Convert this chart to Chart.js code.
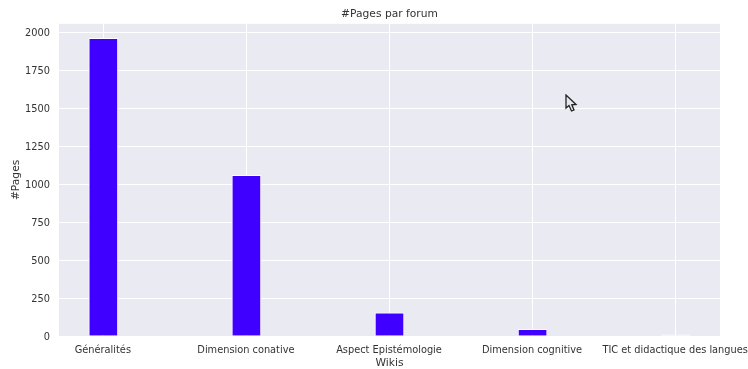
<!DOCTYPE html>
<html>
<head>
<meta charset="utf-8">
<title>#Pages par forum</title>
<script src="https://cdn.jsdelivr.net/npm/chart.js@4"></script>
<style>
    body { margin: 0; background: #fff; overflow: hidden; }
    #wrap { position: relative; width: 748px; height: 369px; }
    #barchart { display: block; }
    #cursor { position: absolute; left: 565px; top: 94px; }
</style>
</head>
<body>
<div id="wrap">
    <canvas id="barchart" width="748" height="369"></canvas>
    <!-- curseur de souris present sur la capture -->
    <svg id="cursor" width="14" height="19" viewBox="0 0 14 19">
        <path d="M1 1 L1 14 L4 11.5 L6.5 17 L9 16 L6.8 10.8 L11 10.5 Z" fill="#e8e8f0" stroke="#222" stroke-width="1.3"/>
    </svg>
</div>
<script>
const categories = ["Généralités", "Dimension conative", "Aspect Epistémologie", "Dimension cognitive", "TIC et didactique des langues"];
const pages = [1960, 1058, 152, 44, 7];
const yTicks = [0, 250, 500, 750, 1000, 1250, 1500, 1750, 2000];

const TEXT = "#333333";
const FONT = "'DejaVu Sans'";

// fond gris du graphique, dessine avant les grilles
const plotBackground = {
    id: "plotBackground",
    beforeDraw(chart) {
        const a = chart.chartArea;
        chart.ctx.save();
        chart.ctx.fillStyle = "#EAEAF2";
        chart.ctx.fillRect(a.left, a.top, a.width, a.height);
        chart.ctx.restore();
    }
};

let ctx = document.getElementById("barchart").getContext("2d");
new Chart(ctx, {
    type: "bar",
    data: {
        datasets: [{
            label: "#Pages",
            data: categories.map((c, i) => ({ x: i, y: pages[i] })),
            // une barre plus fine que sa bordure reste blanche
            backgroundColor: c => c.raw.y < 10 ? "#ffffff" : "#3F00FF",
            borderColor: "#ffffff",
            borderWidth: 1,
            barThickness: 29
        }]
    },
    options: {
        responsive: false,
        animation: false,
        layout: { padding: { left: 0, right: 28, top: 0, bottom: 0 } },
        plugins: {
            legend: { display: false },
            tooltip: { enabled: false },
            title: {
                display: true,
                fullSize: false,
                text: "#Pages par forum",
                color: TEXT,
                font: { family: FONT, size: 10.7, weight: "normal" },
                padding: { top: 8, bottom: 3 }
            }
        },
        scales: {
            x: {
                type: "linear",
                min: -0.31,
                max: 4.31,
                offset: false,
                grid: { color: "#ffffff", lineWidth: 1, drawTicks: false, offset: false },
                border: { display: false },
                title: {
                    display: true,
                    text: "Wikis",
                    color: TEXT,
                    font: { family: FONT, size: 10.7 },
                    padding: { top: 0, bottom: -1 }
                },
                ticks: {
                    autoSkip: false,
                    maxRotation: 0,
                    color: TEXT,
                    font: { family: FONT, size: 9.8 },
                    padding: 9,
                    labelOffset: -0.5,
                    callback: v => categories[v]
                },
                afterBuildTicks(scale) {
                    scale.ticks = categories.map((c, i) => ({ value: i }));
                },
                afterFit(scale) {
                    scale.height = 33;
                    scale.paddingLeft = 0;
                    scale.paddingRight = 0;
                }
            },
            y: {
                min: 0,
                max: 2056,
                grid: { color: "#ffffff", lineWidth: 1, drawTicks: false },
                border: { display: false },
                title: {
                    display: true,
                    text: "#Pages",
                    color: TEXT,
                    font: { family: FONT, size: 10.7 },
                    padding: { top: 10, bottom: 0 }
                },
                ticks: {
                    autoSkip: false,
                    color: TEXT,
                    font: { family: FONT, size: 9.8 },
                    padding: 9,
                    labelOffset: 1,
                    callback: v => String(v)
                },
                afterBuildTicks(scale) {
                    scale.ticks = yTicks.map(v => ({ value: v }));
                },
                afterFit(scale) {
                    scale.width = 59;
                }
            }
        }
    },
    plugins: [plotBackground]
});
</script>
</body>
</html>
